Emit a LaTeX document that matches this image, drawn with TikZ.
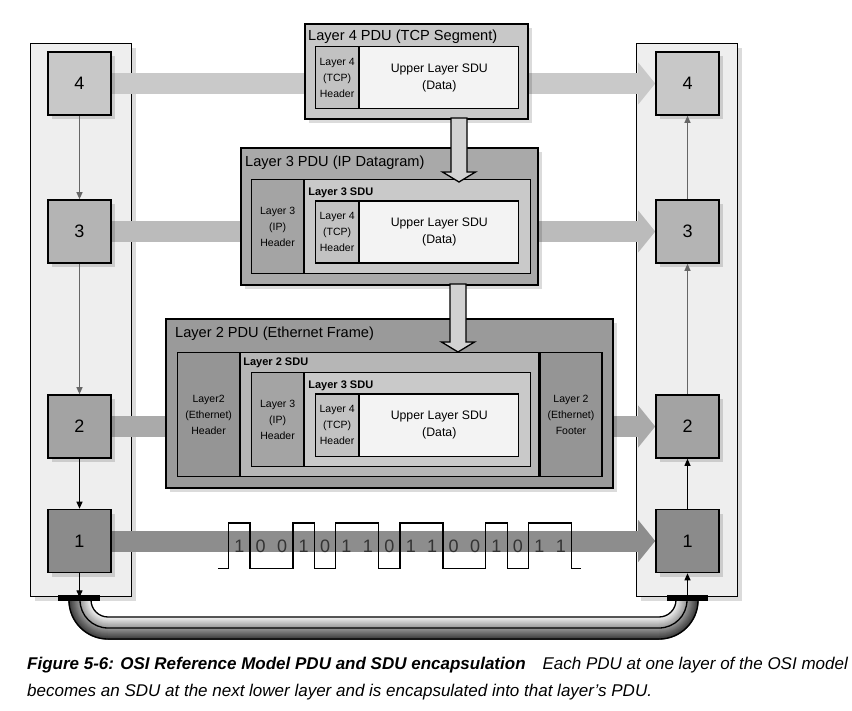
\documentclass[tikz,border=0pt]{standalone}
\usepackage{fontspec}
\setmainfont{Liberation Sans}
\usetikzlibrary{arrows.meta,shadows}

\definecolor{panelfill}{HTML}{EEEEEE}
\definecolor{lfour}{HTML}{C8C8C8}
\definecolor{lthree}{HTML}{B4B4B4}
\definecolor{ltwo}{HTML}{A3A3A3}
\definecolor{lone}{HTML}{8B8B8B}
\definecolor{barfour}{HTML}{C9C9C9}
\definecolor{barthree}{HTML}{BBBBBB}
\definecolor{bartwo}{HTML}{AAAAAA}
\definecolor{barone}{HTML}{8D8D8D}
\definecolor{pdufour}{HTML}{C8C8C8}
\definecolor{pduthree}{HTML}{A9A9A9}
\definecolor{pdutwo}{HTML}{9A9A9A}
\definecolor{hdrfour}{HTML}{C2C2C2}
\definecolor{hdrthree}{HTML}{A4A4A4}
\definecolor{hdrtwo}{HTML}{959595}
\definecolor{sduthree}{HTML}{C9C9C9}
\definecolor{sdutwo}{HTML}{B6B6B6}
\definecolor{datafill}{HTML}{F3F3F3}
\definecolor{arrowfill}{HTML}{D2D2D2}
\definecolor{thingray}{HTML}{666666}

\pgfdeclarelayer{back}
\pgfdeclarelayer{bars}
\pgfsetlayers{back,bars,main}

\tikzset{
  shade box/.style={drop shadow={shadow xshift=4pt,shadow yshift=-4pt,fill=black,opacity=0.14}},
  panel/.style={draw, line width=1.4pt, fill=panelfill, anchor=north west, minimum width=101pt, minimum height=553pt, inner sep=0pt, shade box},
  layerbox/.style={draw, line width=1.6pt, minimum size=63pt, inner sep=0pt, font=\fontsize{18}{18}\selectfont, shade box},
  peer/.style={line width=21pt, -{Triangle[length=17pt,width=42pt,line width=0pt]}},
  thin/.style={line width=1pt, -{Triangle[length=7pt,width=6pt]}},
  frame/.style={draw, line width=1.6pt, anchor=north west, inner sep=0pt, shade box},
  cell/.style={draw, line width=1.2pt, anchor=north west, inner sep=0pt, align=center, font=\fontsize{10.5}{16}\selectfont},
  title/.style={anchor=west, inner sep=0pt, font=\fontsize{14.6}{15}\selectfont},
  sdulabel/.style={anchor=west, inner sep=0pt, font=\bfseries\fontsize{11}{11}\selectfont},
  blockarrow/.style={draw, line width=1.3pt, fill=arrowfill, line join=miter},
  bit/.style={inner sep=0pt, text=black!80, font=\fontsize{18}{18}\selectfont},
  wave/.style={line width=1.3pt},
  caption/.style={anchor=base west, inner sep=0pt, font=\itshape\fontsize{17}{27}\selectfont}
}

% layer 4 segment: header + data
\newcommand{\tcpseg}[2]{%
  \node[cell, fill=hdrfour, minimum width=43pt, minimum height=62pt] (#2h) at (315,#1) {Layer 4\\(TCP)\\Header};
  \node[cell, fill=datafill, minimum width=159pt, minimum height=62pt, font=\fontsize{12.3}{17}\selectfont] (#2d) at (#2h.north east) {Upper Layer SDU\\(Data)};
}
% layer 3 header + layer 3 SDU
\newcommand{\ipgroup}[2]{%
  \node[cell, fill=hdrthree, minimum width=52pt, minimum height=94pt] (#2h) at (251,#1) {Layer 3\\(IP)\\Header};
  \node[cell, fill=sduthree, minimum width=226pt, minimum height=94pt] (#2s) at (#2h.north east) {};
  \node[sdulabel] (#2l) at ([xshift=4pt,yshift=-13.5pt]#2s.north west) {Layer 3 SDU};
  \tcpseg{#1+21.5}{#2t}
}
% hollow down arrow: x, top, tip
\newcommand{\encarrow}[3]{%
  \draw[blockarrow] (#1-8,#2) -- (#1-8,#3-10) -- (#1-16.5,#3-10) -- (#1,#3)
    -- (#1+16.5,#3-10) -- (#1+8,#3-10) -- (#1+8,#2) -- cycle;
}

\begin{document}
\begin{tikzpicture}[x=1pt, y=-1pt]
  \useasboundingbox (0,0) rectangle (852,711);

  \begin{pgfonlayer}{back}
    \fill[white] (0,0) rectangle (852,711);
    \node[panel] (lpanel) at (30,43) {};
    \node[panel] (rpanel) at (636,43) {};
  \end{pgfonlayer}

  % layer boxes
  \node[layerbox, fill=lfour]  (L4) at (79.5,83.5)  {4};
  \node[layerbox, fill=lthree] (L3) at (79.5,231.5) {3};
  \node[layerbox, fill=ltwo]   (L2) at (79.5,426.5) {2};
  \node[layerbox, fill=lone]   (L1) at (79.5,541)   {1};

  \node[layerbox, fill=lfour]  (R4) at (687.5,83.5)  {4};
  \node[layerbox, fill=lthree] (R3) at (687.5,231.5) {3};
  \node[layerbox, fill=ltwo]   (R2) at (687.5,426.5) {2};
  \node[layerbox, fill=lone]   (R1) at (687.5,541)   {1};

  \draw[thin, thingray] (L4) -- (L3);
  \draw[thin, thingray] (L3) -- (L2);
  \draw[thin, black] (L2) -- (L1);
  \draw[thin, black] (L1) -- (L1 |- lpanel.south);

  \draw[thin, black] (R1 |- rpanel.south) -- (R1);
  \draw[thin, black] (R1) -- (R2);
  \draw[thin, thingray] (R2) -- (R3);
  \draw[thin, thingray] (R3) -- (R4);

  \begin{pgfonlayer}{bars}
    \draw[peer, barfour]  (L4) -- (R4);
    \draw[peer, barthree] (L3) -- (R3);
    \draw[peer, bartwo]   (L2) -- (R2);
    \draw[peer, barone]   (L1) -- (R1);
  \end{pgfonlayer}

  % layer 4 PDU
  \node[frame, fill=pdufour, minimum width=223pt, minimum height=95pt] (pdu4) at (304,23) {};
  \node[title] (t4) at (308,37) {Layer 4 PDU (TCP Segment)};
  \tcpseg{46}{s4}

  % layer 3 PDU
  \node[frame, fill=pduthree, minimum width=297pt, minimum height=137pt] (pdu3) at (240,147) {};
  \node[title] (t3) at (245,163) {Layer 3 PDU (IP Datagram)};
  \ipgroup{179}{g3}

  % layer 2 PDU
  \node[frame, fill=pdutwo, minimum width=447pt, minimum height=169pt] (pdu2) at (165,318) {};
  \node[title] (t2) at (175,334) {Layer 2 PDU (Ethernet Frame)};
  \node[cell, fill=hdrtwo, minimum width=62pt, minimum height=124pt] (ethh) at (177,352) {Layer2\\(Ethernet)\\Header};
  \node[cell, fill=sdutwo, minimum width=298pt, minimum height=124pt] (sdu2) at (ethh.north east) {};
  \node[cell, fill=hdrtwo, minimum width=62pt, minimum height=124pt] (ethf) at (sdu2.north east) {Layer 2\\(Ethernet)\\Footer};
  \node[sdulabel] (l2s) at ([xshift=3pt,yshift=-11pt]sdu2.north west) {Layer 2 SDU};
  \ipgroup{372}{g2}

  \encarrow{459}{118}{182}
  \encarrow{458}{284}{352}

  % bits on the wire
  \begin{scope}[xshift=228.6pt, x=21.43pt]
    \foreach \b [count=\i] in {1,0,0,1,0,1,1,0,1,1,0,0,1,0,1,1}
      \node[bit] (bit\i) at (\i-0.5,546) {\b};
    \foreach \p/\r/\f in {-0.5/0/1, 1/3/4, 4/5/7, 7/8/10, 10/12/13, 13/14/16}
      \draw[wave] (\p,568.6) -- (\r,568.6) -- (\r,523) -- (\f,523) -- (\f,568.6);
    \draw[wave] (16,568.6) -- (16.45,568.6);
  \end{scope}

  % cable
  \foreach \r in {17,...,39}{
    \pgfmathtruncatemacro\tone{4+(\r-17)*3.3}
    \draw[line width=1.5pt, black!\tone] (108-\r,600) arc[start angle=180, end angle=90, radius=\r]
      -- (659,600+\r) arc[start angle=90, end angle=0, radius=\r];
  }
  \foreach \r in {17,28,39}
    \draw[line width=1.3pt] (108-\r,600) arc[start angle=180, end angle=90, radius=\r]
      -- (659,600+\r) arc[start angle=90, end angle=0, radius=\r];
  \fill (58,595) rectangle (100,601);
  \fill (667,595) rectangle (708,601);

  % caption
  \node[caption] (cap1) at (27,669) {\textbf{Figure 5-6: OSI Reference Model PDU and SDU encapsulation}\quad Each PDU at one layer of the OSI model};
  \node[caption] (cap2) at (27,696) {becomes an SDU at the next lower layer and is encapsulated into that layer’s PDU.};
\end{tikzpicture}
\end{document}
